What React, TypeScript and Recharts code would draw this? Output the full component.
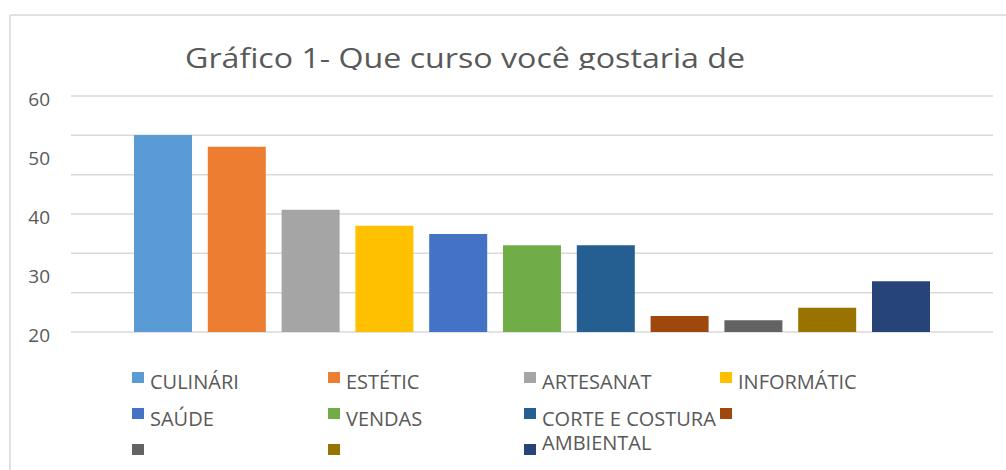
import React from 'react';
import { BarChart, Bar, XAxis, YAxis, CartesianGrid } from 'recharts';

const categories = ['CULINÁRI', 'ESTÉTIC', 'ARTESANAT', 'INFORMÁTIC', 'SAÚDE', 'VENDAS', 'CORTE E COSTURA', '', '', '', 'AMBIENTAL'];
const values = [53.4, 51.4, 40.7, 38.0, 36.6, 34.7, 34.7, 22.7, 22.0, 24.1, 28.6];
const colors = ['#5B9BD5', '#ED7D31', '#A5A5A5', '#FFC000', '#4472C4', '#70AD47', '#255E91', '#9E480E', '#636363', '#997300', '#264478'];
const yTicks = [20, 30, 40, 50, 60];
const gridValues = [20, 26.67, 33.33, 40, 46.67, 53.33, 60];
const title = 'Gráfico 1- Que curso você gostaria de';

const row: Record<string, any> = { name: '' };
values.forEach((v, i) => {
  row[`s${i}`] = v;
});
const data = [row];

const FONT = "'Open Sans', sans-serif";
const TEXT = '#595959';

const YTick = (props: any) => {
  const { y, payload } = props;
  return (
    <text x={50} y={y + 10} textAnchor="end" fill={TEXT} fontSize={19} fontFamily={FONT}>
      {payload.value}
    </text>
  );
};

const colX = [132, 328, 524, 720];
const squareTop = [372, 408, 444];
const textBase = [388.5, 426, 450];

export default function App() {
  return (
    <div style={{ position: 'absolute', left: 0, top: 0, width: 1006, height: 470, overflow: 'hidden', background: '#fff' }}>
      <BarChart
        width={1006}
        height={470}
        data={data}
        margin={{ top: 96, right: 13, bottom: 138, left: 11 }}
        barCategoryGap={63}
        barGap={15.8}
      >
        <CartesianGrid vertical={false} horizontalValues={gridValues} stroke="#d9d9d9" strokeWidth={1.5} />
        <XAxis dataKey="name" hide />
        <YAxis
          type="number"
          domain={[20, 60]}
          ticks={yTicks}
          interval={0}
          axisLine={false}
          tickLine={false}
          width={60}
          tick={<YTick />}
        />
        {values.map((_, i) => (
          <Bar key={i} dataKey={`s${i}`} name={categories[i]} fill={colors[i]} isAnimationActive={false} />
        ))}
      </BarChart>
      <svg
        width={1006}
        height={470}
        style={{ position: 'absolute', left: 0, top: 0, pointerEvents: 'none' }}
      >
        <defs>
          <clipPath id="titleClip">
            <rect x={0} y={0} width={1006} height={70} />
          </clipPath>
        </defs>
        <line x1={10} y1={15} x2={1006} y2={15} stroke="#d9d9d9" strokeWidth={1.5} />
        <line x1={10} y1={15} x2={10} y2={470} stroke="#d9d9d9" strokeWidth={1.5} />
        <g clipPath="url(#titleClip)">
          <text
            x={185}
            y={68.3}
            fontSize={28}
            fontFamily={FONT}
            fill={TEXT}
            textLength={560}
            lengthAdjust="spacingAndGlyphs"
          >
            {title}
          </text>
        </g>
        {categories.map((c, i) => {
          const col = i % 4;
          const r = Math.floor(i / 4);
          return (
            <g key={i}>
              <rect x={colX[col]} y={squareTop[r]} width={12} height={11} fill={colors[i]} />
              {c ? (
                <text x={colX[col] + 18} y={textBase[r]} fontSize={20} fontFamily={FONT} fill={TEXT}>
                  {c}
                </text>
              ) : null}
            </g>
          );
        })}
      </svg>
    </div>
  );
}
